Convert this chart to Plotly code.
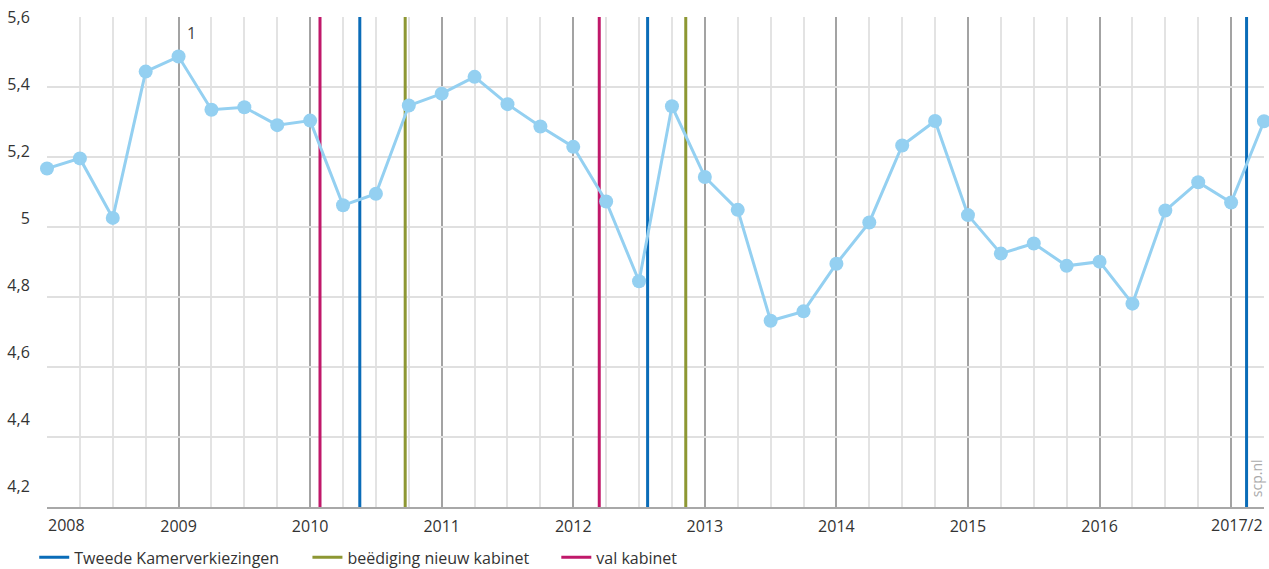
import plotly.graph_objects as go

# quarterly values, 2008 Q1 .. 2017 Q2 (index 0..37)
quarter_index = list(range(38))
values = [5.167, 5.196, 5.026, 5.444, 5.487, 5.335, 5.342, 5.291, 5.304, 5.062,
          5.095, 5.347, 5.381, 5.429, 5.351, 5.287, 5.229, 5.073, 4.845, 5.345,
          5.143, 5.049, 4.732, 4.759, 4.895, 5.013, 5.233, 5.303, 5.034, 4.924,
          4.953, 4.889, 4.901, 4.781, 5.047, 5.128, 5.070, 5.302]

# event positions (in quarter-index units)
verkiezingen = [9.51, 18.26, 36.47]
beediging = [10.89, 19.42]
val_kabinet = [8.30, 16.79]

year_ticks = [0, 4, 8, 12, 16, 20, 24, 28, 32, 36]
year_labels = ["", "2009", "2010", "2011", "2012", "2013", "2014", "2015", "2016", ""]
first_label = "2008"
last_label = "2017/2"

y_ticks = [4.2, 4.4, 4.6, 4.8, 5.0, 5.2, 5.4, 5.6]
y_labels = ["4,2", "4,4", "4,6", "4,8", "5", "5,2", "5,4", "5,6"]
y_min, y_max = 4.2, 5.6

FONT = "Open Sans"
TXT = "#333333"


def vlines(xs):
    xx, yy = [], []
    for x in xs:
        xx += [x, x, None]
        yy += [y_min, y_max, None]
    return xx, yy


fig = go.Figure()
for name, xs, col, lg in [("Tweede Kamerverkiezingen", verkiezingen, "#0a6cb8", "legend"),
                          ("beëdiging nieuw kabinet", beediging, "#8d9733", "legend2"),
                          ("val kabinet", val_kabinet, "#c0186a", "legend3")]:
    xx, yy = vlines(xs)
    fig.add_trace(go.Scatter(x=xx, y=yy, mode="lines", name=name, legend=lg,
                             line=dict(color=col, width=3), hoverinfo="skip"))

fig.add_trace(go.Scatter(x=quarter_index, y=values, mode="lines+markers",
                         line=dict(color="#94d0f1", width=3),
                         marker=dict(color="#94d0f1", size=14),
                         showlegend=False, cliponaxis=False))

# invisible trace carrying the label axis
fig.add_trace(go.Scatter(x=quarter_index, y=values, yaxis="y2", mode="markers",
                         marker=dict(opacity=0), showlegend=False, hoverinfo="skip"))


def legend_at(x):
    return dict(orientation="h", x=x, xanchor="left", y=-0.103, yanchor="middle",
                font=dict(family=FONT, size=16, color=TXT), itemwidth=30,
                bgcolor="rgba(0,0,0,0)")


fig.update_layout(
    width=1269, height=569,
    margin=dict(l=47, r=5, t=17, b=62, autoexpand=False),
    paper_bgcolor="white", plot_bgcolor="white",
    font=dict(family=FONT, size=16, color=TXT),
    xaxis=dict(range=[0, 37], tickmode="array", tickvals=year_ticks, ticktext=year_labels,
               showgrid=True, gridcolor="#a3a3a3", gridwidth=1.5,
               minor=dict(tickmode="array", tickvals=quarter_index, showgrid=True,
                          gridcolor="#e3e3e3", gridwidth=2),
               zeroline=False, showline=True, linecolor="#a8a8a8", linewidth=2,
               ticks="outside", ticklen=4, tickcolor="rgba(0,0,0,0)", automargin=False,
               tickfont=dict(family=FONT, size=16, color=TXT)),
    yaxis=dict(range=[y_min, y_max], tickmode="array", tickvals=y_ticks,
               showticklabels=False, showgrid=True, gridcolor="#e0e0e0", gridwidth=2,
               zeroline=False, showline=False, automargin=False),
    yaxis2=dict(overlaying="y", side="left",
                range=[y_max - (y_max - y_min) * 490 / 469, y_max],
                tickmode="array", tickvals=y_ticks, ticktext=y_labels,
                showgrid=False, zeroline=False, showline=False, automargin=False,
                ticks="outside", ticklen=13, tickcolor="rgba(0,0,0,0)",
                tickfont=dict(family=FONT, size=16, color=TXT)),
    legend=legend_at(-0.0105),
    legend2=legend_at(0.2140),
    legend3=legend_at(0.4185),
    showlegend=True,
    annotations=[
        dict(text=first_label, x=0, xref="x", y=0, yref="paper", xanchor="left",
             yanchor="top", yshift=-6, showarrow=False,
             font=dict(family=FONT, size=16, color=TXT), borderpad=0),
        dict(text=last_label, x=37, xref="x", y=0, yref="paper", xanchor="right",
             yanchor="top", yshift=-6, showarrow=False,
             font=dict(family=FONT, size=16, color=TXT), borderpad=0),
        dict(text="1", x=4, xref="x", y=0.967, yref="paper", xshift=13,
             xanchor="center", yanchor="middle",
             showarrow=False, font=dict(family=FONT, size=16, color="#444444")),
        dict(text="scp.nl", x=0.9935, xref="paper", y=0.059, yref="paper",
             xanchor="center", yanchor="middle",
             textangle=-90, showarrow=False,
             font=dict(family=FONT, size=14, color="#aaaaaa")),
    ],
)

fig.write_html("out.html", config={"displayModeBar": False},
               post_script="document.body.style.margin='0';"
                           "document.body.style.overflow='hidden';")
